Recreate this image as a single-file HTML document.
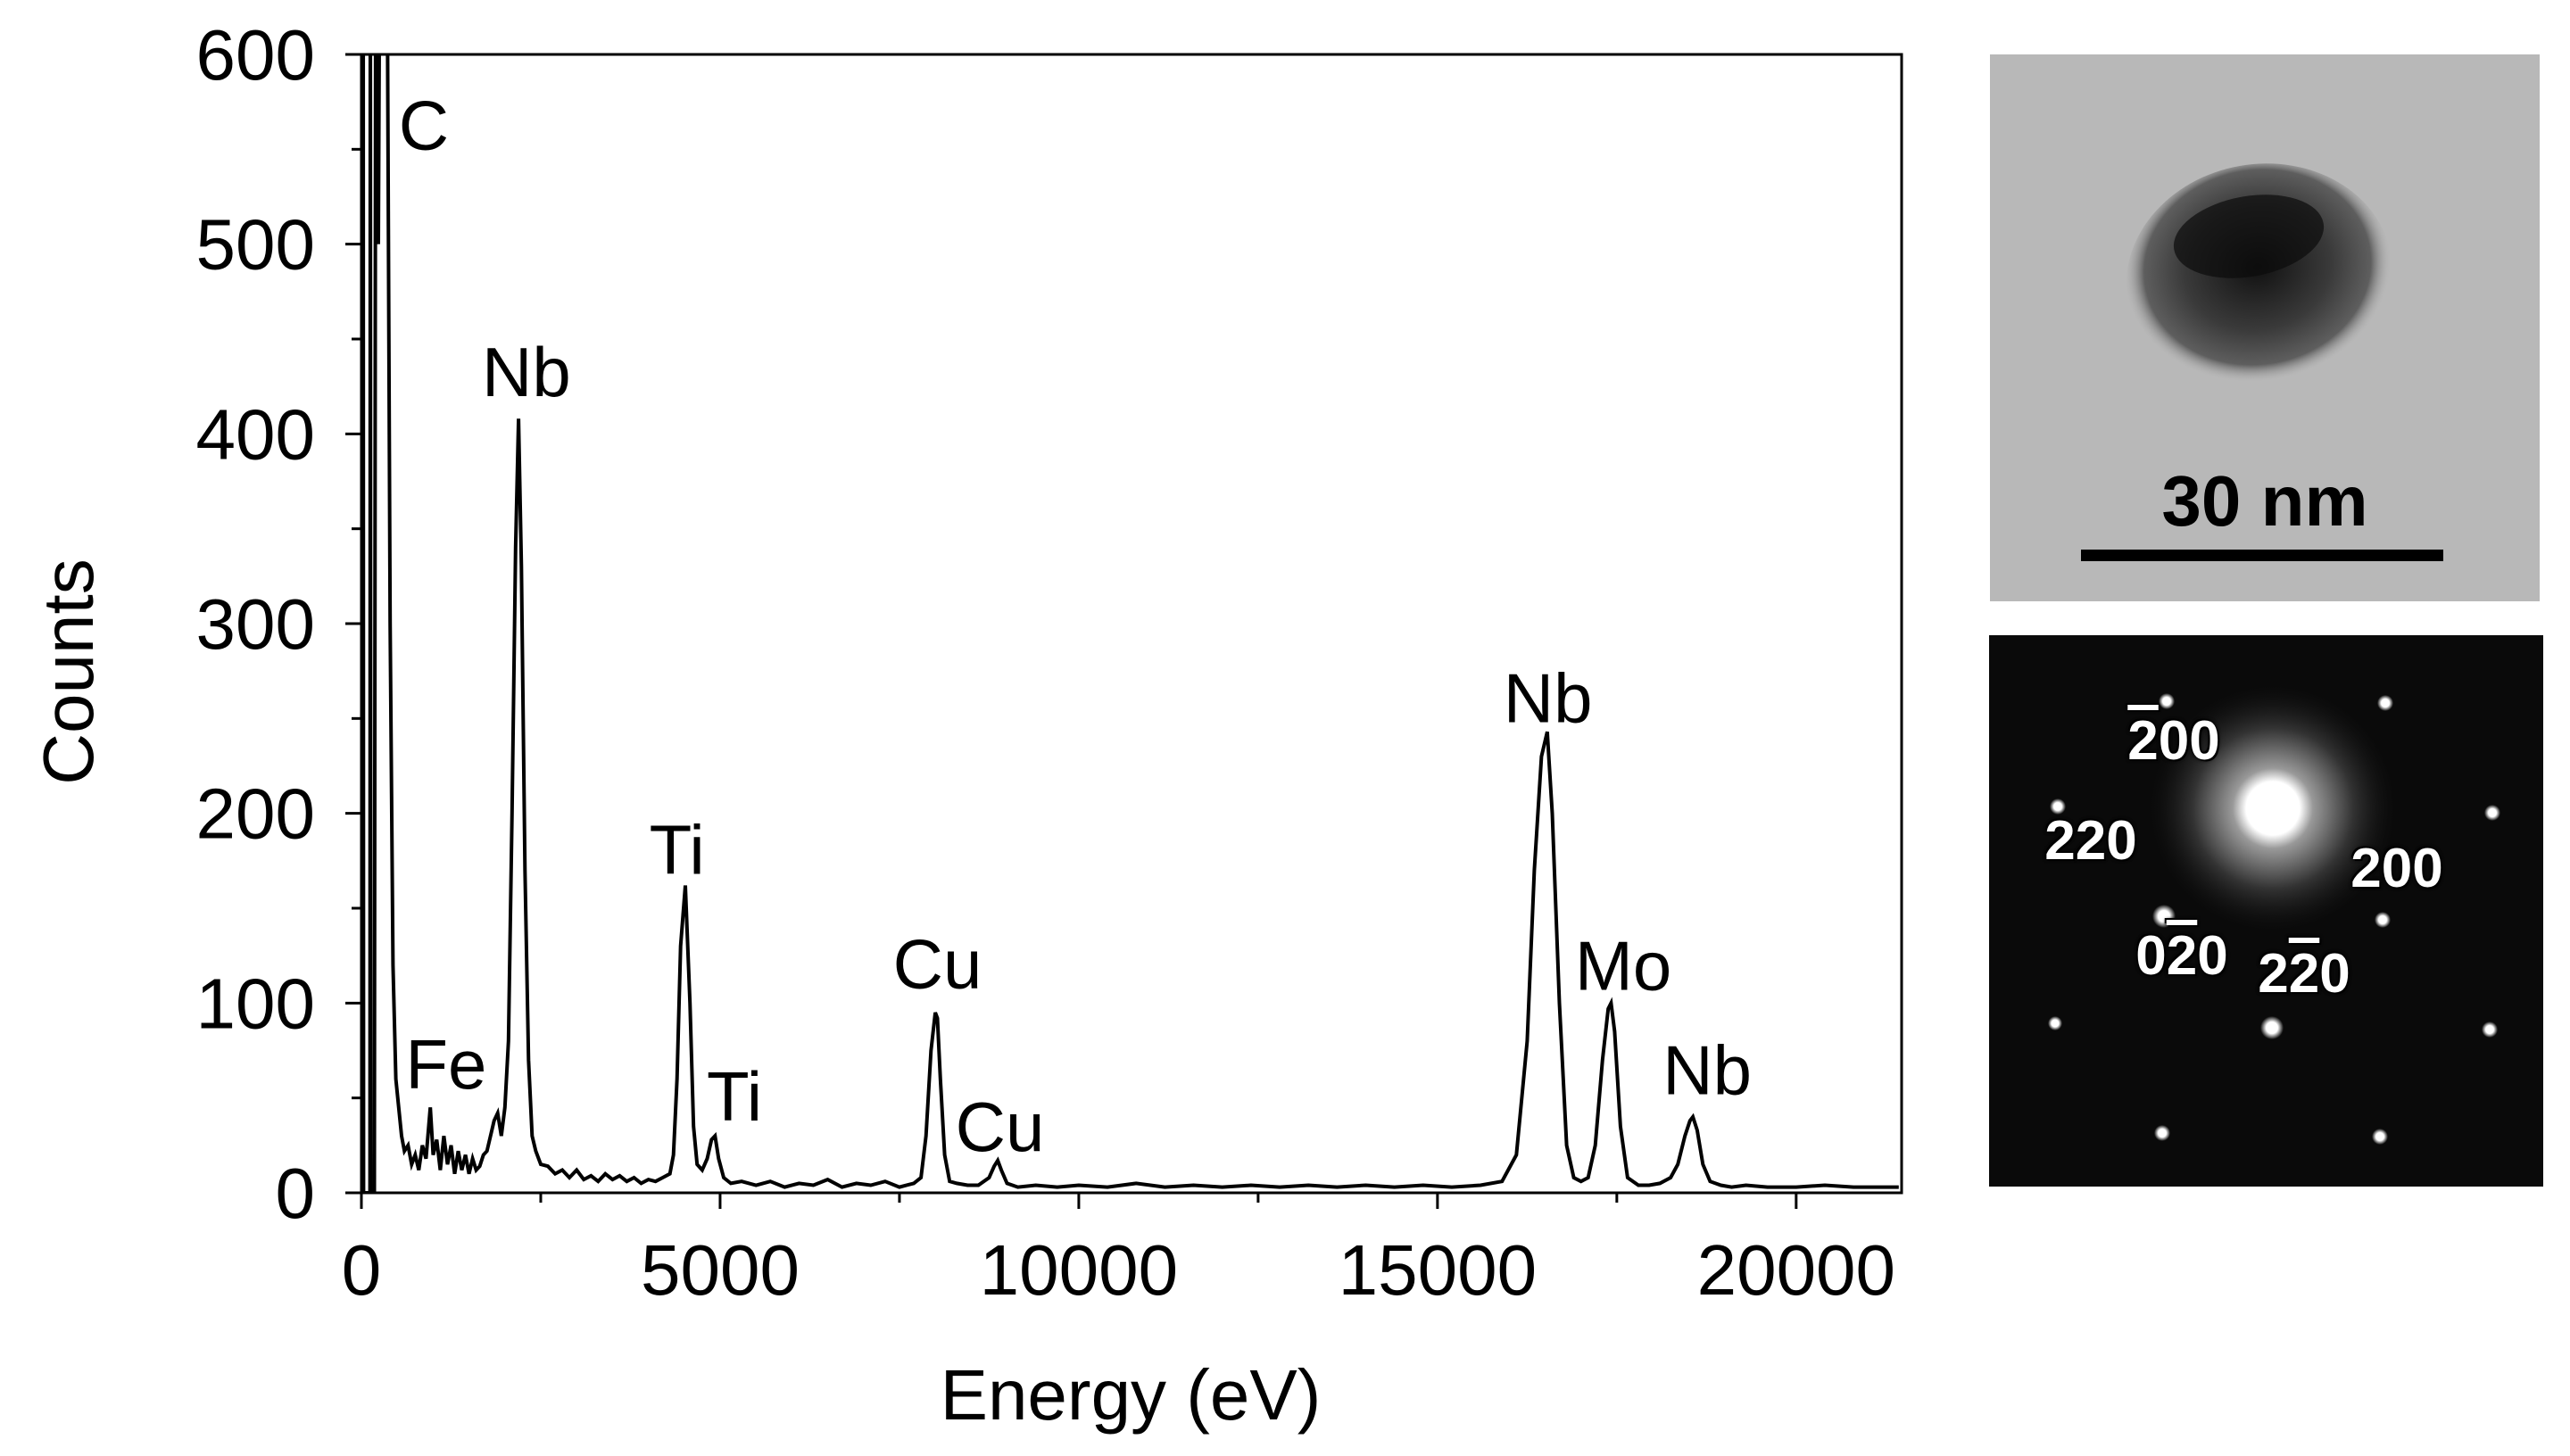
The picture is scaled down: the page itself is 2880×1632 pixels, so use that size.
<!DOCTYPE html>
<html><head><meta charset="utf-8">
<style>
html,body{margin:0;padding:0;background:#fff;}
body{width:2880px;height:1632px;position:relative;overflow:hidden;font-family:"Liberation Sans",sans-serif;}
svg{position:absolute;left:0;top:0;}
.dl{position:absolute;color:#fff;font-weight:bold;font-size:62px;line-height:1;transform:translate(-50%,-100%);text-shadow:0 0 4px #000,0 0 4px #000,2px 2px 0 #000,-2px -2px 0 #000;white-space:nowrap;}
.ob{text-decoration:overline;}
</style></head>
<body>
<svg id="chart" width="2880" height="1632">
  <defs>
    <clipPath id="plotclip"><rect x="405" y="61" width="1726" height="1276"/></clipPath>
    <radialGradient id="blob" cx="50%" cy="45%" r="50%">
      <stop offset="0" stop-color="#111"/><stop offset="0.55" stop-color="#3a3a3a"/><stop offset="0.85" stop-color="#5e5e5e"/><stop offset="1" stop-color="#b0b0b0" stop-opacity="0"/>
    </radialGradient>
    <radialGradient id="halo" cx="50%" cy="50%" r="50%">
      <stop offset="0" stop-color="#fff"/><stop offset="0.2" stop-color="#fff"/><stop offset="0.3" stop-color="#999"/><stop offset="0.6" stop-color="#333"/><stop offset="1" stop-color="#000" stop-opacity="0"/>
    </radialGradient>
    <radialGradient id="spot" cx="50%" cy="50%" r="50%">
      <stop offset="0" stop-color="#fff"/><stop offset="0.5" stop-color="#fff"/><stop offset="1" stop-color="#fff" stop-opacity="0"/>
    </radialGradient>
  </defs>
  <g id="axes"></g>
  <path id="spectrum" fill="none" stroke="#000" stroke-width="4" clip-path="url(#plotclip)"/>
  <rect x="405" y="61" width="1726" height="1276" fill="none" stroke="#000" stroke-width="3"/>
  <g id="peaklabels" font-size="78" text-anchor="middle" fill="#000"></g>
  <text x="1267" y="1591" font-size="80" text-anchor="middle">Energy (eV)</text>
  <text transform="translate(104,753) rotate(-90)" font-size="80" text-anchor="middle">Counts</text>

  <g>
    <rect x="2230" y="61" width="616" height="613" fill="#b8b8b8"/>
    <ellipse cx="2532" cy="312" rx="150" ry="128" fill="url(#blob)" transform="rotate(-10 2532 312)"/>
    <ellipse cx="2520" cy="265" rx="85" ry="45" fill="#0c0c0c" opacity="0.7" transform="rotate(-10 2520 265)"/>
    <rect x="2332" y="616" width="406" height="13" fill="#000"/>
    <text x="2538" y="589" font-size="80" font-weight="bold" text-anchor="middle">30 nm</text>
  </g>
  <g>
    <rect x="2229" y="712" width="621" height="618" fill="#0a0a0a"/>
    <circle cx="2547" cy="906" r="150" fill="url(#halo)"/>
    <g id="spots"></g>
  </g>
</svg>
<div class="dl" style="left:2436px;top:862px"><span class="ob">2</span>00</div>
<div class="dl" style="left:2343px;top:974px">220</div>
<div class="dl" style="left:2686px;top:1005px">200</div>
<div class="dl" style="left:2445px;top:1103px">0<span class="ob">2</span>0</div>
<div class="dl" style="left:2582px;top:1123px">2<span class="ob">2</span>0</div>
<script>
const energies=[0,20,25,30,100,120,125,130,180,200,236,260,300,323,360,400,440,480,520,560,600,650,700,750,800,850,900,960,1000,1050,1100,1150,1200,1250,1300,1350,1400,1450,1500,1550,1600,1650,1700,1750,1800,1850,1900,1950,2000,2050,2100,2150,2190,2230,2280,2330,2380,2430,2500,2600,2700,2800,2900,3000,3100,3200,3300,3400,3500,3600,3700,3800,3900,4000,4100,4200,4300,4350,4400,4450,4515,4580,4630,4680,4750,4820,4880,4930,4980,5050,5150,5300,5500,5700,5900,6100,6300,6500,6700,6900,7100,7300,7500,7700,7800,7870,7940,8000,8030,8070,8130,8200,8300,8450,8600,8750,8820,8870,8920,9000,9150,9400,9700,10000,10400,10800,11200,11600,12000,12400,12800,13200,13600,14000,14400,14800,15200,15600,15900,16100,16250,16350,16450,16530,16600,16700,16800,16900,17000,17100,17200,17300,17380,17420,17470,17550,17650,17800,17950,18100,18250,18350,18450,18520,18560,18620,18700,18800,18950,19100,19300,19600,20000,20400,20800,21200,21430];
const counts=[0,0,700,0,0,0,700,0,0,700,500,700,700,700,650,300,120,60,45,30,22,25,15,20,12,25,18,45,20,28,12,30,15,25,10,22,12,20,10,18,12,14,20,22,30,38,42,30,45,80,200,340,408,330,170,70,30,22,15,14,10,12,8,12,7,9,6,10,7,9,6,8,5,7,6,8,10,20,60,130,162,100,35,15,12,18,28,30,18,8,5,6,4,6,3,5,4,7,3,5,4,6,3,5,8,30,75,95,92,60,20,6,5,4,4,8,14,17,12,5,3,4,3,4,3,5,3,4,3,4,3,4,3,4,3,4,3,4,6,20,80,170,230,243,200,100,25,8,6,8,25,70,97,100,85,35,8,4,4,5,8,15,30,38,40,33,15,6,4,3,4,3,3,4,3,3,3];
const xTicks=[0,5000,10000,15000,20000];
const xTickLabels=["0","5000","10000","15000","20000"];
const yTicks=[0,100,200,300,400,500,600];
const yTickLabels=["0","100","200","300","400","500","600"];
const peakNames=["C","Nb","Fe","Ti","Ti","Cu","Cu","Nb","Mo","Nb"];
const peakEnergies=[870,2300,1180,4400,5200,8030,8900,16540,17590,18760];
const peakLabelCounts=[550,420,55,168,38,108,22,248,107,52];
const spotX=[2428,2673,2306,2793,2425,2670,2303,2546,2790,2423,2667];
const spotY=[786,788,904,911,1027,1031,1147,1152,1154,1270,1274];
const spotR=[9,9,9,9,13,9,8,13,9,9,9];

const X0=405,X1=2131,Y0=1337,Y1=61,EMAX=21470,CMAX=600;
const xs=e=>X0+(e/EMAX)*(X1-X0);
const ys=c=>Y0-(c/CMAX)*(Y0-Y1);
const NS="http://www.w3.org/2000/svg";
function mk(tag,attrs,parent){const el=document.createElementNS(NS,tag);for(const k in attrs)el.setAttribute(k,attrs[k]);parent.appendChild(el);return el;}
let d="";
for(let i=0;i<energies.length;i++){d+=(i?"L":"M")+xs(energies[i]).toFixed(1)+","+ys(counts[i]).toFixed(1);}
document.getElementById("spectrum").setAttribute("d",d);
const ax=document.getElementById("axes");
xTicks.forEach((t,i)=>{
  const l=mk("line",{x1:xs(t),x2:xs(t),y1:Y0,y2:Y0+18,stroke:"#000","stroke-width":3},ax);
  
  
  const tx=mk("text",{x:xs(t),y:1451,"font-size":80,"text-anchor":"middle"},ax);
  tx.textContent=xTickLabels[i];
  
  
  if(i<xTicks.length-1){const m=t+2500;mk("line",{x1:xs(m),x2:xs(m),y1:Y0,y2:Y0+11,stroke:"#000","stroke-width":3},ax);}
});
yTicks.forEach((t,i)=>{
  const l=mk("line",{x1:X0-18,x2:X0,y1:ys(t),y2:ys(t),stroke:"#000","stroke-width":3},ax);
  
  
  const tx=mk("text",{x:353,y:ys(t)+28,"font-size":80,"text-anchor":"end"},ax);
  tx.textContent=yTickLabels[i];
  
  
  if(i<yTicks.length-1){const m=t+50;mk("line",{x1:X0-11,x2:X0,y1:ys(m),y2:ys(m),stroke:"#000","stroke-width":3},ax);}
});
const pl=document.getElementById("peaklabels");
peakNames.forEach((n,i)=>{
  const tx=mk("text",{x:xs(peakEnergies[i]),y:ys(peakLabelCounts[i])},pl);
  tx.textContent=n;
  
  
});
const sp=document.getElementById("spots");
spotX.forEach((x,i)=>{
  const c=mk("circle",{cx:x,cy:spotY[i],r:spotR[i],fill:"url(#spot)"},sp);
  
  
});
</script>
</body></html>
